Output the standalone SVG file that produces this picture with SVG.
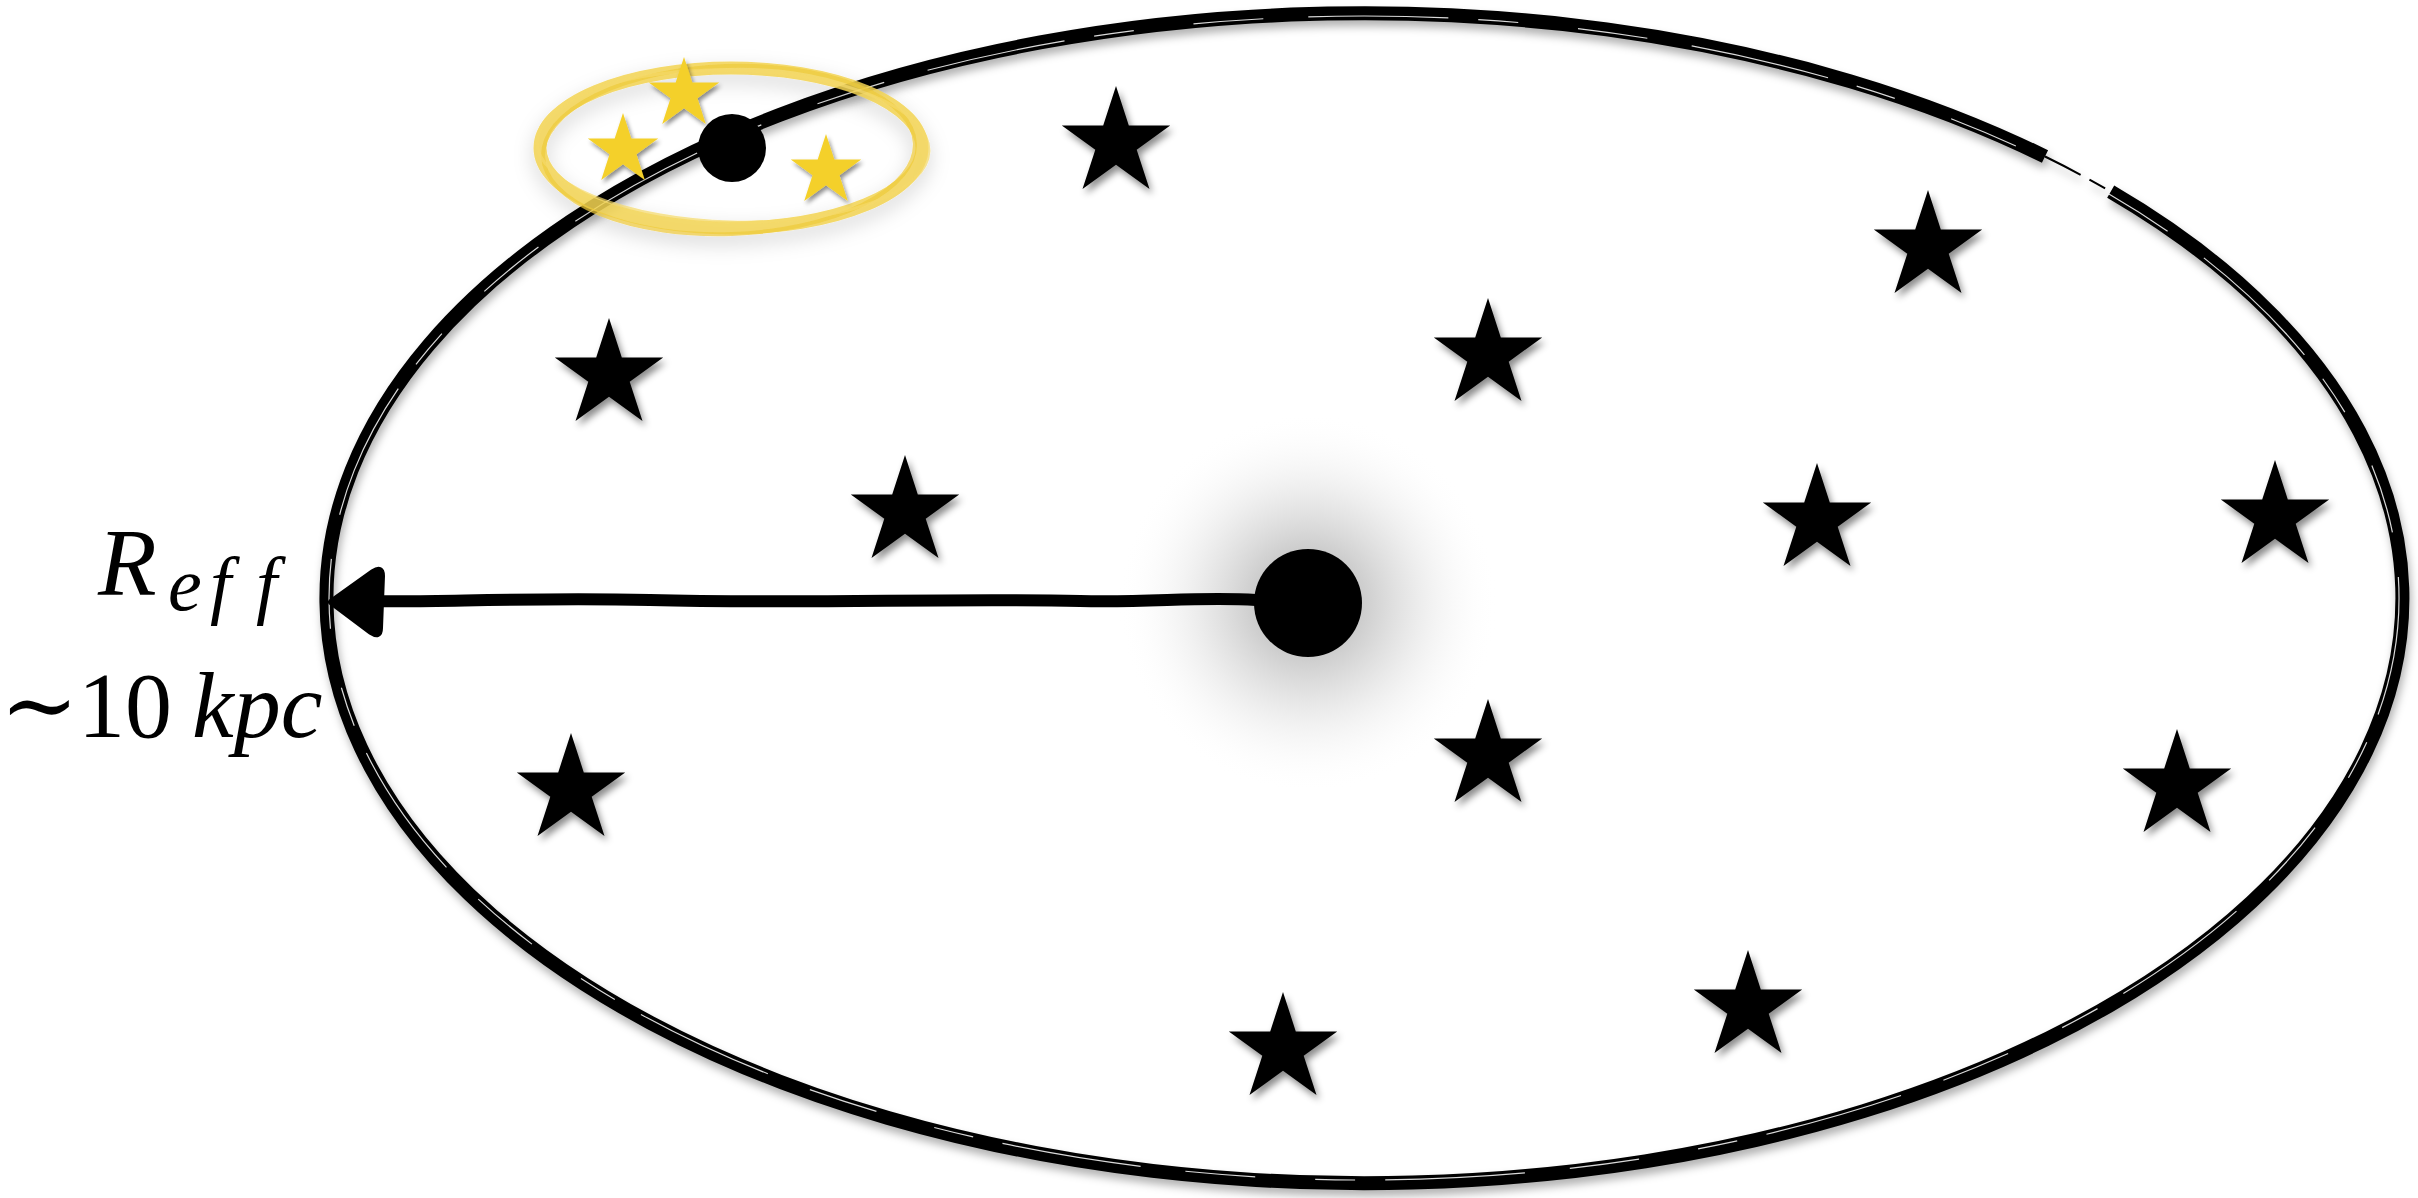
<svg xmlns="http://www.w3.org/2000/svg" width="2418" height="1198" viewBox="0 0 2418 1198">
<style>
.star{fill:#000;filter:url(#sh)}
.ystar{fill:#F4D02A;filter:url(#sh)}
.lbl{font-family:"Liberation Serif","DejaVu Serif",serif;fill:#000}
.it{font-style:italic}
.brush{fill:none;stroke:#000}
</style>
<defs>
<filter id="sh" x="-30%" y="-30%" width="160%" height="160%">
<feDropShadow dx="3" dy="5" stdDeviation="3.5" flood-color="#000" flood-opacity="0.45"/>
</filter>
<filter id="lsh" x="-10%" y="-10%" width="120%" height="120%">
<feDropShadow dx="2" dy="6" stdDeviation="4" flood-color="#000" flood-opacity="0.3"/>
</filter>
<filter id="ysh" x="-30%" y="-50%" width="160%" height="200%">
<feDropShadow dx="0" dy="8" stdDeviation="10" flood-color="#000" flood-opacity="0.18"/>
</filter>
<radialGradient id="glow">
<stop offset="0.25" stop-color="#c8c8c8"/>
<stop offset="0.55" stop-color="#e4e4e4" stop-opacity="0.8"/>
<stop offset="1" stop-color="#ffffff" stop-opacity="0"/>
</radialGradient>
<path id="st" d="M0,-57 L12.8,-17.6 L54.2,-17.6 L20.7,6.7 L33.5,46.1 L0,21.8 L-33.5,46.1 L-20.7,6.7 L-54.2,-17.6 L-12.8,-17.6 Z"/>
</defs>
<rect width="2418" height="1198" fill="#fff"/>

<g id="galaxy-outline">
<g filter="url(#lsh)">
<path class="brush" stroke-width="14" d="M2110.7,191.6 A1038 585 0 1 1 2045,156.5"/>
<path class="brush" stroke-width="2" stroke="#333" stroke-dasharray="40 10 18 14 6 12" d="M2045,156.5 A1038 585 0 0 1 2110.7,191.6"/>
</g>
<path fill="none" stroke="#fff" stroke-width="1.2" stroke-dasharray="70 45 140 30 40 60" opacity="0.85" d="M2108.5,193.7 A1035 582 0 1 1 2043.1,158.8"/>
</g>

<g id="core">
<circle cx="1308" cy="603" r="190" fill="url(#glow)"/>
<circle cx="1308" cy="603" r="54" fill="#000"/>
</g>

<g id="connectors">
<path d="M1256,600 C1200,596 1150,603 1080,601 C950,598 800,604 650,600 C520,597 430,603 375,601" fill="none" stroke="#000" stroke-width="12" stroke-linecap="round"/>
<path d="M331,602 L373,572 Q382,566 382,576 L380,628 Q380,638 371,632 Z" fill="#000" stroke="#000" stroke-width="6" stroke-linejoin="round"/>
</g>

<g id="stars">
<use href="#st" class="star" x="1116" y="143"/>
<use href="#st" class="star" x="1928" y="247"/>
<use href="#st" class="star" x="609" y="375"/>
<use href="#st" class="star" x="1488" y="355"/>
<use href="#st" class="star" x="905" y="512"/>
<use href="#st" class="star" x="1817" y="520"/>
<use href="#st" class="star" x="2275" y="517"/>
<use href="#st" class="star" x="571" y="790"/>
<use href="#st" class="star" x="1488" y="756"/>
<use href="#st" class="star" x="2177" y="786"/>
<use href="#st" class="star" x="1748" y="1007"/>
<use href="#st" class="star" x="1283" y="1049"/>
</g>

<g id="cluster">
<g filter="url(#ysh)">
<ellipse cx="731" cy="148" rx="191" ry="80" fill="none" stroke="#F2D352" stroke-width="13" opacity="0.85"/>
<ellipse cx="729" cy="150" rx="186" ry="84" fill="none" stroke="#EFCB3A" stroke-width="4" opacity="0.7" transform="rotate(-2 729 150)"/>
<ellipse cx="733" cy="146" rx="196" ry="76" fill="none" stroke="#F5DA6A" stroke-width="3" opacity="0.7" transform="rotate(1.5 733 146)"/>
</g>
<circle cx="732" cy="148" r="34" fill="#000"/>
<g transform="translate(684 94) scale(0.65)"><use href="#st" class="ystar"/></g>
<g transform="translate(623 150) scale(0.65)"><use href="#st" class="ystar"/></g>
<g transform="translate(826 171) scale(0.65)"><use href="#st" class="ystar"/></g>
</g>

<g id="label">
<text class="lbl it" x="98" y="595" font-size="96">R</text>
<text class="lbl it" y="610" font-size="76"><tspan x="168">e</tspan><tspan x="210">f</tspan><tspan x="256">f</tspan></text>
<text class="lbl" y="737" font-size="94"><tspan x="0">∼</tspan><tspan x="78">10</tspan><tspan class="it" x="192">kpc</tspan></text>
</g>
</svg>
